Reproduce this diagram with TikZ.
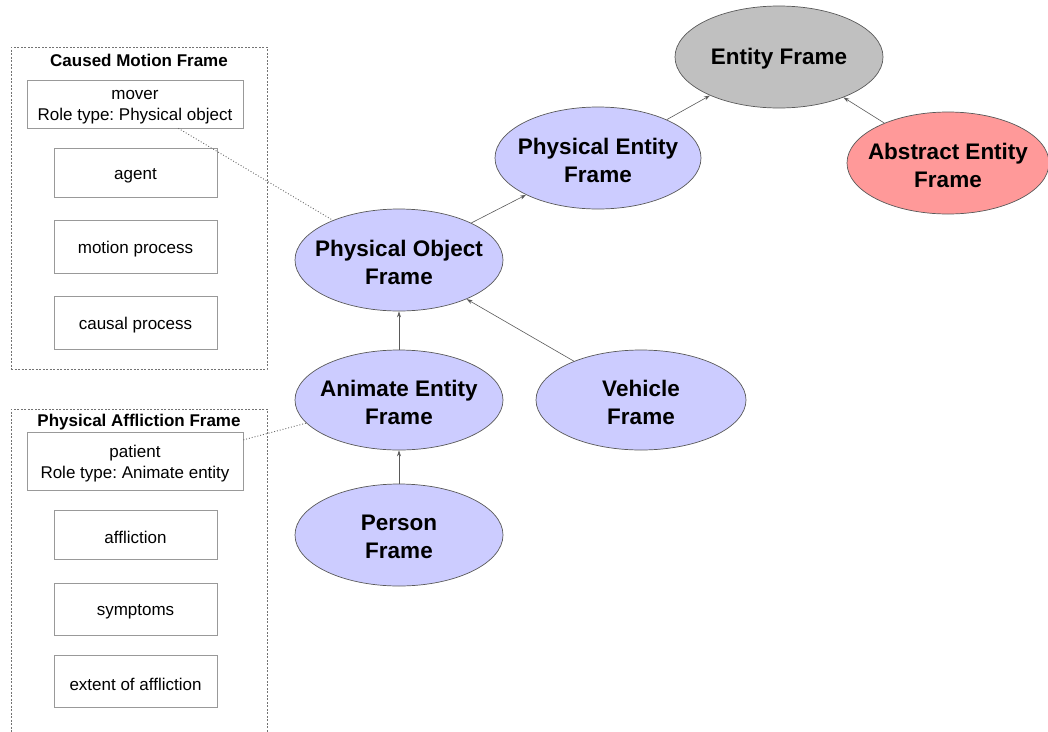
\documentclass[tikz,border=0pt]{standalone}
\usepackage{fontspec}
\setmainfont{Liberation Sans}
\frenchspacing
\usetikzlibrary{shapes.geometric,arrows.meta,calc,shadows}
\definecolor{lav}{HTML}{CCCCFF}
\definecolor{entgray}{HTML}{C0C0C0}
\definecolor{abspink}{HTML}{FF9999}
\begin{document}
\begin{tikzpicture}[x=1pt,y=-1pt,
  frame/.style={ellipse,draw=black!65,line width=0.7pt,inner sep=0pt,
    minimum width=208pt,minimum height=102pt,fill=lav},
  ftext/.style={font=\fontsize{22.5}{28}\selectfont\bfseries,align=center,inner sep=0pt,yshift=-2pt},
  role/.style={draw=black!40,line width=0.7pt,fill=white,inner sep=0pt,
    drop shadow={shadow xshift=1.2pt,shadow yshift=-1.2pt,opacity=0.25}},
  rtext/.style={font=\fontsize{17}{21}\selectfont,align=center,inner sep=0pt,yshift=-3pt},
  group/.style={draw=black!55,dash pattern=on 2pt off 1.5pt,line width=0.6pt,inner sep=0pt},
  gtitle/.style={font=\fontsize{17}{21}\selectfont\bfseries,inner sep=0pt},
  isa/.style={-{Stealth[length=6pt,width=4pt]},draw=black!65,line width=0.6pt},
  link/.style={draw=black!60,dotted,line width=0.9pt}]
\path[use as bounding box,clip] (0,0) rectangle (1048,731);

% containers
\node[group,minimum width=256pt,minimum height=322pt] (cm) at (139,208) {};
\node[gtitle] (cmt) at (139,60) {Caused Motion Frame};
\node[group,minimum width=256pt,minimum height=336pt] (pa) at (139,577) {};
\node[gtitle] (pat) at (139,422) {Physical Affliction Frame};

% role boxes
\node[role,minimum width=216pt,minimum height=48pt,label={[rtext]center:{mover\\Role type: Physical object}}] (mover) at (135,104) {};
\node[role,minimum width=163pt,minimum height=49pt,label={[rtext]center:agent}] (agent) at (135.5,172.5) {};
\node[role,minimum width=163pt,minimum height=53pt,label={[rtext]center:motion process}] (motion) at (135.5,246.5) {};
\node[role,minimum width=163pt,minimum height=53pt,label={[rtext]center:causal process}] (causal) at (135.5,322.5) {};

\node[role,minimum width=216pt,minimum height=58pt,label={[rtext]center:{patient\\Role type: Animate entity}}] (patient) at (135,461) {};
\node[role,minimum width=163pt,minimum height=49pt,label={[rtext]center:affliction}] (affl) at (135.5,534.5) {};
\node[role,minimum width=163pt,minimum height=52pt,label={[rtext]center:symptoms}] (sympt) at (135.5,609) {};
\node[role,minimum width=163pt,minimum height=52pt,label={[rtext]center:extent of affliction}] (extent) at (135.5,681) {};

% frames
\node[frame,fill=entgray,label={[ftext]center:Entity Frame}] (ent) at (779,57) {};
\node[frame,fill=abspink,minimum width=202pt,label={[ftext]center:{Abstract Entity\\Frame}}] (abs) at (948,163) {};
\node[frame,minimum width=206pt,label={[ftext]center:{Physical Entity\\Frame}}] (pe) at (598,158) {};
\node[frame,label={[ftext]center:{Physical Object\\Frame}}] (po) at (399,260) {};
\node[frame,minimum height=100pt,label={[ftext]center:{Animate Entity\\Frame}}] (ae) at (399,400) {};
\node[frame,minimum width=210pt,minimum height=100pt,label={[ftext]center:{Vehicle\\Frame}}] (veh) at (641,400) {};
\node[frame,label={[ftext]center:{Person\\Frame}}] (per) at (399,535) {};

% is-a connectors
\draw[isa] (pe) -- (ent);
\draw[isa] (abs) -- (ent);
\draw[isa] (po) -- (pe);
\draw[isa] (veh) -- (po);
\draw[isa] (ae) -- (po);
\draw[isa] (per) -- (ae);

% role type links
\draw[link] ($(mover.south west)!0.70!(mover.south east)$) -- (po.149);
\draw[link] ($(patient.north east)!0.14!(patient.south east)$) -- (ae.194);
\end{tikzpicture}
\end{document}
